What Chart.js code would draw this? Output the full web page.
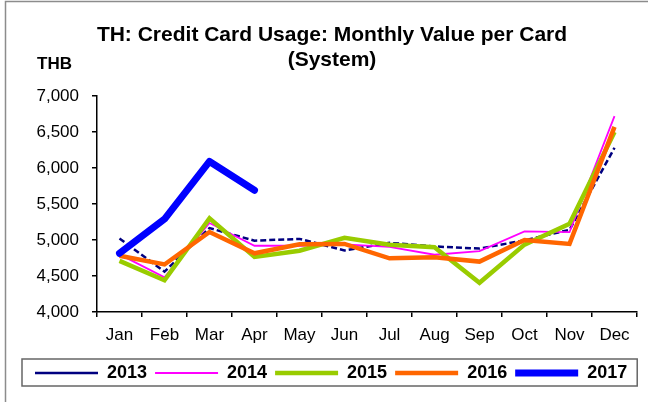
<!DOCTYPE html>
<html>
<head>
<meta charset="utf-8">
<script src="https://cdn.jsdelivr.net/npm/chart.js@4"></script>
<style>
  html, body { margin: 0; padding: 0; background: #fff; }
  #wrap { width: 648px; height: 402px; }
</style>
</head>
<body>
<div id="wrap"><canvas id="lineChart"></canvas></div>
<script>
const months = ['Jan', 'Feb', 'Mar', 'Apr', 'May', 'Jun', 'Jul', 'Aug', 'Sep', 'Oct', 'Nov', 'Dec'];
const yTicks = [4000, 4500, 5000, 5500, 6000, 6500, 7000];

// monthly value per card, THB
const v2013 = [5020, 4560, 5165, 4990, 5015, 4855, 4960, 4910, 4880, 4995, 5140, 6280];
const v2014 = [4800, 4480, 5235, 4920, 4920, 4940, 4905, 4795, 4845, 5120, 5110, 6720];
const v2015 = [4710, 4440, 5300, 4765, 4850, 5030, 4935, 4900, 4405, 4935, 5225, 6500];
const v2016 = [4780, 4660, 5110, 4815, 4940, 4945, 4745, 4760, 4700, 5000, 4945, 6570];
const v2017 = [4815, 5290, 6090, 5690];

Chart.defaults.font.family = '"Liberation Sans", Arial, sans-serif';
Chart.defaults.color = '#000';

// outer frame, unit label and the box round the legend
const decorations = {
  id: 'decorations',
  beforeDraw(chart) {
    const { ctx, width, height } = chart;
    ctx.save();
    ctx.fillStyle = '#fff';
    ctx.fillRect(0, 0, width, height);
    ctx.strokeStyle = '#8c8c8c';
    ctx.lineWidth = 1.5;
    ctx.beginPath();
    ctx.moveTo(5.5, height);
    ctx.lineTo(5.5, 1.5);
    ctx.lineTo(width, 1.5);
    ctx.stroke();
    ctx.restore();
  },
  afterDraw(chart) {
    const { ctx, chartArea } = chart;
    ctx.save();
    ctx.font = 'bold 17px "Liberation Sans", Arial, sans-serif';
    ctx.fillStyle = '#000';
    ctx.textBaseline = 'middle';
    ctx.textAlign = 'left';
    ctx.fillText('THB', chartArea.left - 60, chartArea.top - 32);

    const boxes = chart.legend.legendHitBoxes;
    const left = Math.min(...boxes.map(b => b.left)) - 13;
    const right = Math.max(...boxes.map(b => b.left + b.width)) + 10;
    const cy = boxes[0].top + boxes[0].height / 2;
    ctx.strokeStyle = '#666';
    ctx.lineWidth = 1.5;
    ctx.strokeRect(left, cy - 14, right - left, 27);
    ctx.restore();
  }
};

const ctx = document.getElementById('lineChart').getContext('2d');

const lineChart = new Chart(ctx, {
  type: 'line',
  data: {
    labels: months,
    // later years are listed first so they are painted on top
    datasets: [
      { label: '2017', data: v2017, borderColor: '#0000ff', borderWidth: 7,
        borderCapStyle: 'round', borderJoinStyle: 'round' },
      { label: '2016', data: v2016, borderColor: '#ff6600', borderWidth: 4.5 },
      { label: '2015', data: v2015, borderColor: '#99cc00', borderWidth: 4.5 },
      { label: '2014', data: v2014, borderColor: '#ff00ff', borderWidth: 1.8 },
      { label: '2013', data: v2013, borderColor: '#000080', borderWidth: 2.5, borderDash: [6, 3] }
    ]
  },
  options: {
    responsive: true,
    maintainAspectRatio: false,
    animation: false,
    elements: {
      line: { tension: 0, fill: false },
      point: { radius: 0, hoverRadius: 0 }
    },
    layout: { padding: { left: 27, right: 11, top: 0, bottom: 10 } },
    scales: {
      x: {
        offset: true,
        ticks: { color: '#000', font: { size: 17 }, padding: 8, maxRotation: 0, autoSkip: false },
        grid: { offset: true, drawOnChartArea: false, tickLength: 5, color: '#000', lineWidth: 1.5 },
        border: { color: '#000', width: 1.5 },
        afterFit(scale) { scale.height = 44; }
      },
      y: {
        min: yTicks[0],
        max: yTicks[yTicks.length - 1],
        afterBuildTicks(scale) { scale.ticks = yTicks.map(v => ({ value: v })); },
        ticks: {
          color: '#000',
          font: { size: 17 },
          padding: 13,
          callback: v => v.toLocaleString('en-US')
        },
        grid: { drawOnChartArea: false, tickLength: 5, color: '#000', lineWidth: 1.5 },
        border: { color: '#000', width: 1.5 },
        afterFit(scale) { scale.width = 70; }
      }
    },
    plugins: {
      title: {
        display: true,
        text: ['TH: Credit Card Usage: Monthly Value per Card', '(System)'],
        color: '#000',
        font: { size: 21, weight: 'bold', lineHeight: 1.2 },
        padding: { top: 22.5, bottom: 23 }
      },
      legend: {
        position: 'bottom',
        align: 'start',
        reverse: true,
        labels: {
          usePointStyle: true,
          pointStyle: 'line',
          pointStyleWidth: 63,
          padding: 8,
          color: '#000',
          font: { size: 18, weight: 'bold' }
        }
      },
      tooltip: { enabled: false }
    }
  },
  plugins: [decorations]
});
</script>
</body>
</html>
